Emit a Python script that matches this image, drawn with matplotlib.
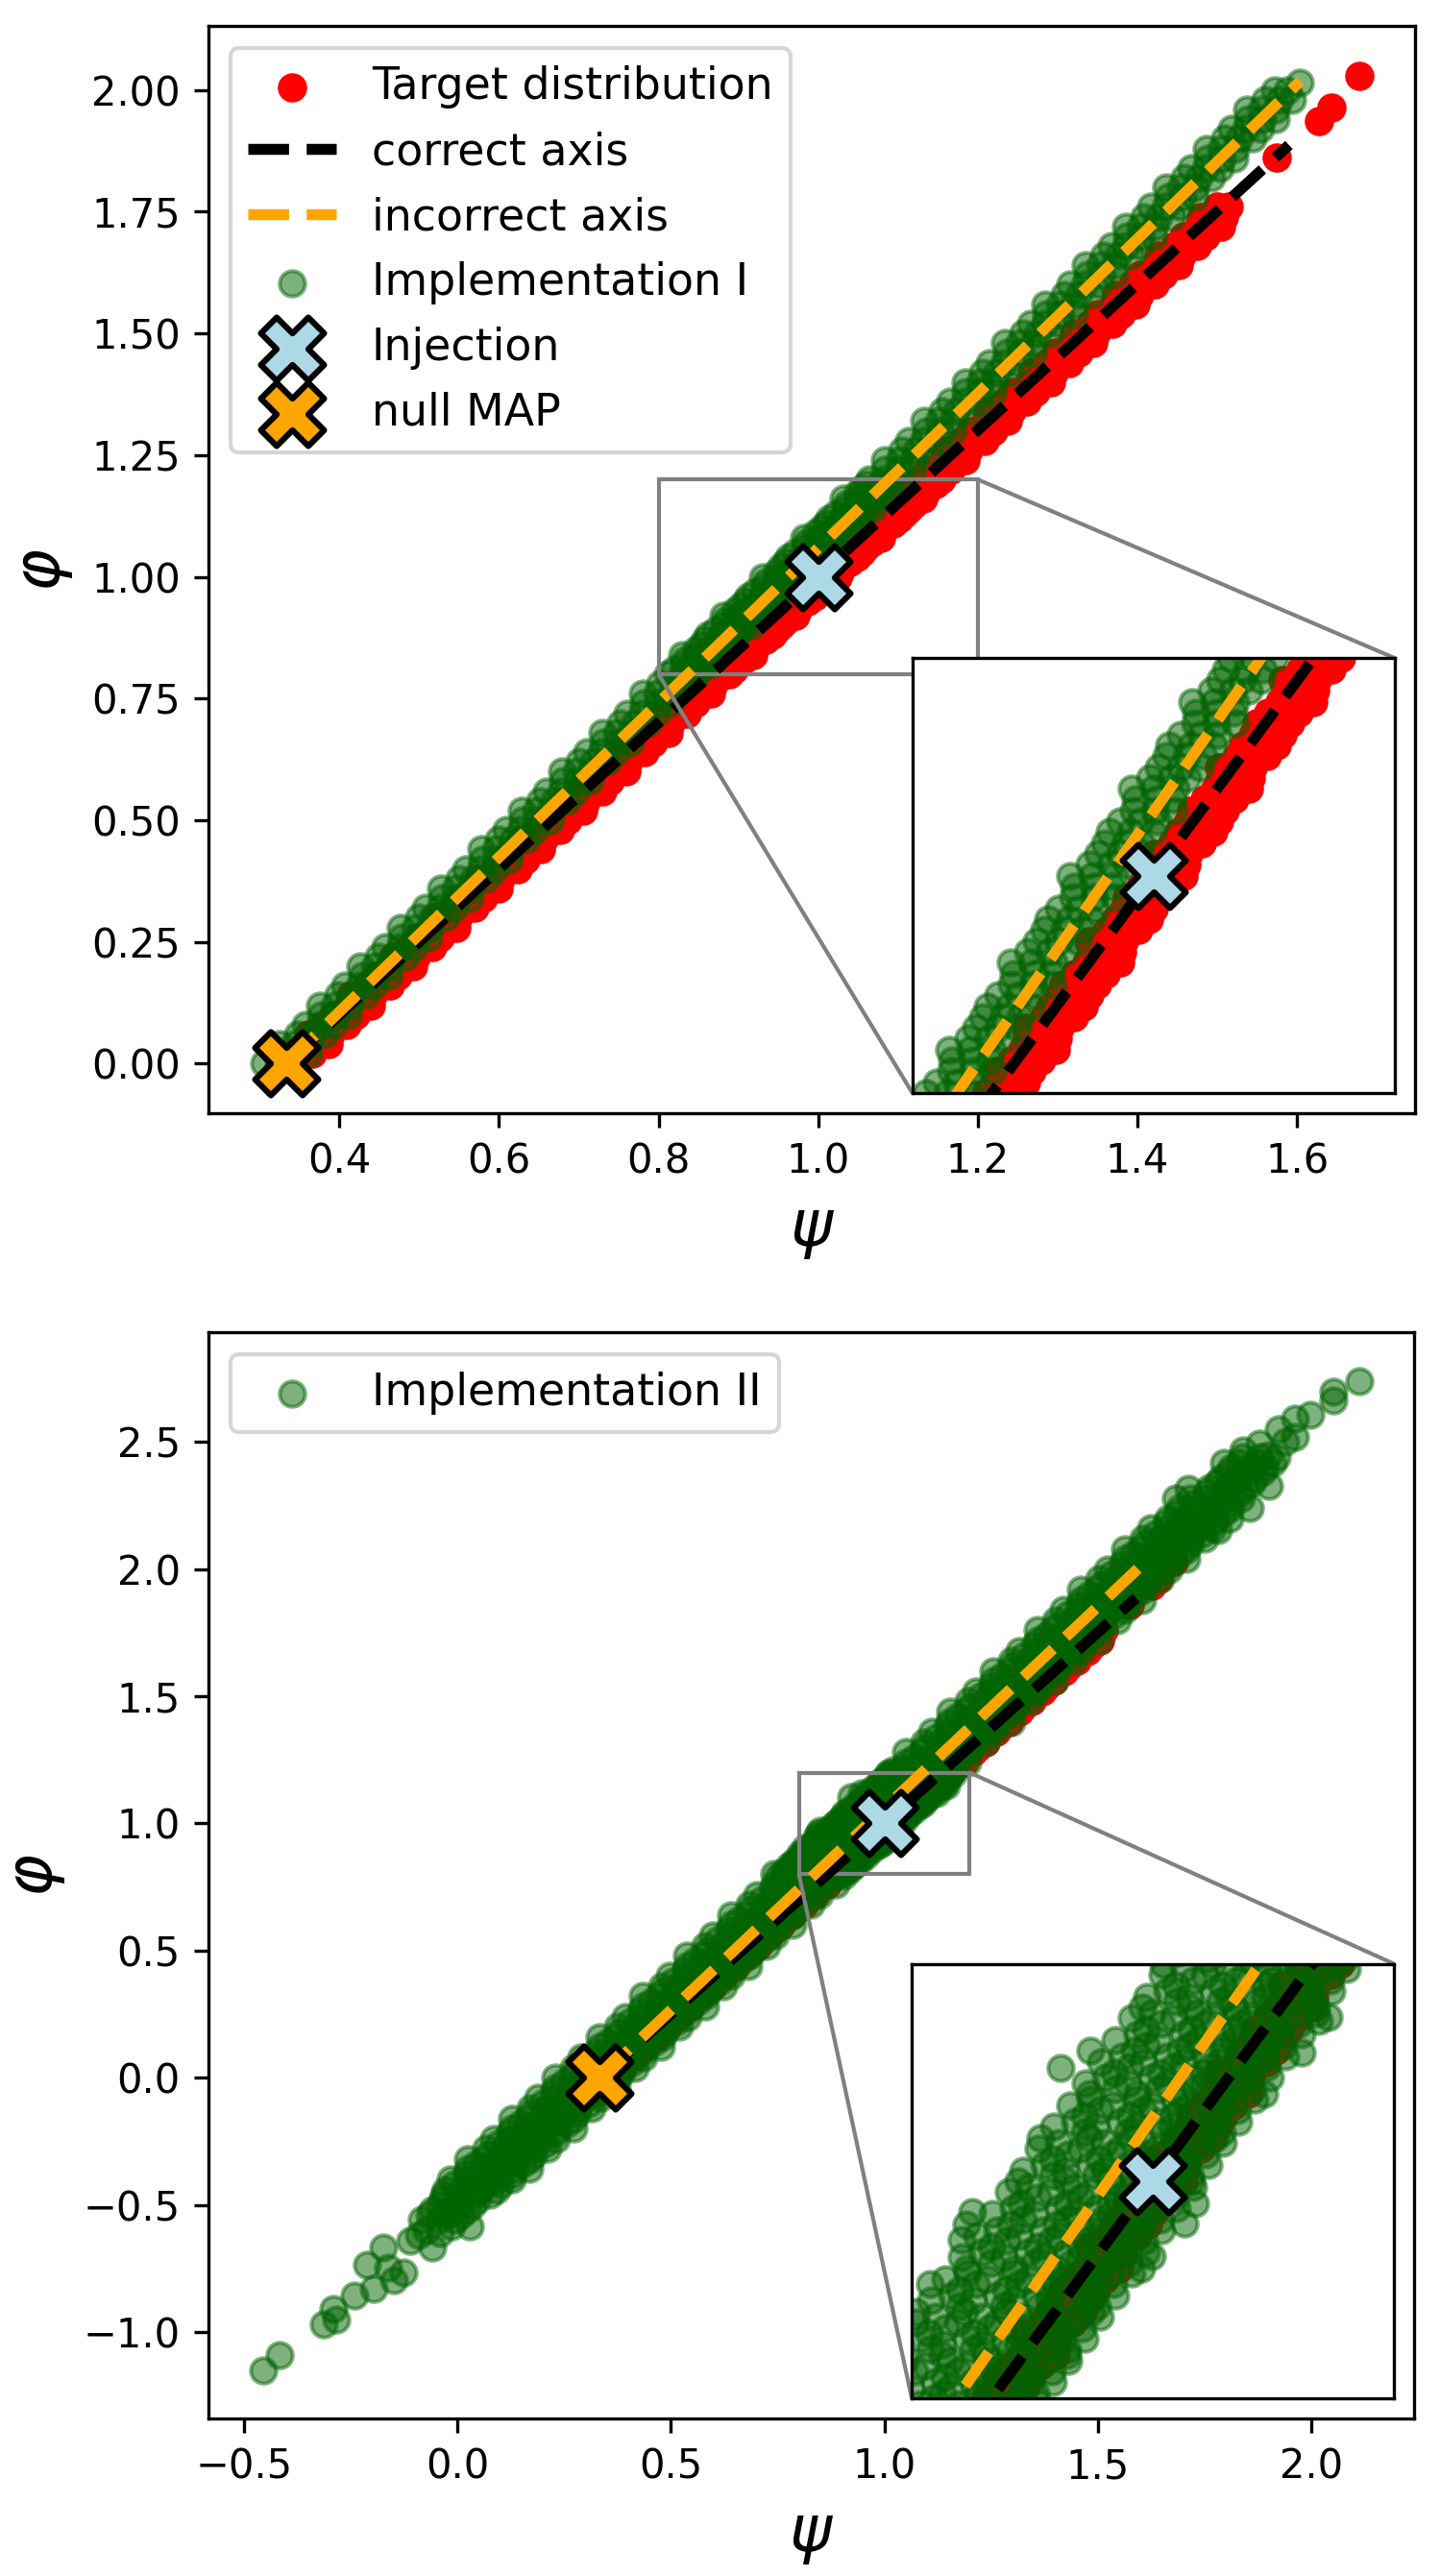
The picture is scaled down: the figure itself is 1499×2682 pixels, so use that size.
import matplotlib.pyplot as plt
from mpl_toolkits.axes_grid1.inset_locator import inset_axes, mark_inset

# markers
injection = (1.0, 1.0)
null_map = (1 / 3, 0.0)

# the two axes (end points)
correct_psi = [0.333, 1.59]
correct_phi = [0.0, 1.887]
incorrect_psi = [0.333, 1.604]
incorrect_phi = [0.0, 2.018]

# samples are stored by rows: (phi, [psi, psi, ...])

# target distribution
target_rows = [
    (0.02, [0.338, 0.352, 0.366]), (0.04, [0.358, 0.372, 0.386]),
    (0.06, [0.361, 0.375, 0.389]), (0.08, [0.381, 0.395, 0.409]),
    (0.10, [0.392, 0.406, 0.420]), (0.12, [0.411, 0.425, 0.439]),
    (0.14, [0.414, 0.428, 0.442]), (0.16, [0.435, 0.449, 0.463]),
    (0.18, [0.445, 0.459, 0.473]), (0.20, [0.464, 0.478, 0.492]),
    (0.22, [0.468, 0.482, 0.496]), (0.24, [0.488, 0.502, 0.516]),
    (0.26, [0.498, 0.512, 0.526]), (0.28, [0.518, 0.532, 0.546]),
    (0.30, [0.521, 0.535, 0.549]), (0.32, [0.541, 0.555, 0.569]),
    (0.34, [0.552, 0.566, 0.580]), (0.36, [0.571, 0.585, 0.599]),
    (0.38, [0.574, 0.588, 0.602]), (0.40, [0.595, 0.609, 0.623]),
    (0.42, [0.605, 0.619, 0.633]), (0.44, [0.624, 0.638, 0.652]),
    (0.46, [0.628, 0.642, 0.656]), (0.48, [0.648, 0.662, 0.676]),
    (0.50, [0.658, 0.672, 0.686]), (0.52, [0.677, 0.691, 0.705]),
    (0.54, [0.681, 0.695, 0.709]), (0.56, [0.701, 0.715, 0.729]),
    (0.58, [0.711, 0.725, 0.739]), (0.60, [0.731, 0.745, 0.759]),
    (0.62, [0.734, 0.748, 0.762]), (0.64, [0.754, 0.768, 0.782]),
    (0.66, [0.765, 0.779, 0.793]), (0.68, [0.784, 0.798, 0.812]),
    (0.70, [0.787, 0.801, 0.815]), (0.72, [0.808, 0.822, 0.836]),
    (0.74, [0.818, 0.832, 0.846]), (0.76, [0.837, 0.851, 0.865]),
    (0.78, [0.841, 0.855, 0.869]), (0.80, [0.861, 0.875, 0.889]),
    (0.82, [0.871, 0.885, 0.899]), (0.84, [0.891, 0.905, 0.919]),
    (0.86, [0.894, 0.908, 0.922]), (0.88, [0.914, 0.928, 0.942]),
    (0.90, [0.925, 0.939, 0.953]), (0.92, [0.944, 0.958, 0.972]),
    (0.94, [0.947, 0.961, 0.975]), (0.96, [0.968, 0.982, 0.996]),
    (0.98, [0.978, 0.992, 1.006]), (1.00, [0.997, 1.011, 1.025]),
    (1.02, [1.001, 1.015, 1.029]), (1.04, [1.021, 1.035, 1.049]),
    (1.06, [1.031, 1.045, 1.059]), (1.08, [1.051, 1.065, 1.079]),
    (1.10, [1.054, 1.068, 1.082]), (1.12, [1.074, 1.088, 1.102]),
    (1.14, [1.085, 1.099, 1.113]), (1.16, [1.104, 1.118, 1.132]),
    (1.18, [1.107, 1.121, 1.135]), (1.20, [1.127, 1.141, 1.155]),
    (1.22, [1.138, 1.152, 1.166]), (1.24, [1.157, 1.171, 1.185]),
    (1.26, [1.160, 1.174, 1.188]), (1.28, [1.181, 1.195, 1.209]),
    (1.30, [1.191, 1.205, 1.219]), (1.32, [1.210, 1.224, 1.238]),
    (1.34, [1.214, 1.228, 1.242]), (1.36, [1.234, 1.248, 1.262]),
    (1.38, [1.244, 1.258, 1.272]), (1.40, [1.264, 1.278, 1.292]),
    (1.42, [1.267, 1.281, 1.295]), (1.44, [1.287, 1.301, 1.315]),
    (1.46, [1.298, 1.312, 1.326]), (1.48, [1.317, 1.331, 1.345]),
    (1.50, [1.320, 1.334, 1.348]), (1.52, [1.341, 1.355, 1.369]),
    (1.54, [1.351, 1.365, 1.379]), (1.56, [1.370, 1.384, 1.398]),
    (1.58, [1.374, 1.388, 1.402]), (1.60, [1.394, 1.408, 1.422]),
    (1.62, [1.404, 1.418, 1.432]), (1.64, [1.424, 1.438, 1.452]),
    (1.66, [1.427, 1.441, 1.455]), (1.68, [1.447, 1.461, 1.475]),
    (1.70, [1.458, 1.472, 1.486]), (1.72, [1.477, 1.491, 1.505]),
    (1.74, [1.480, 1.494, 1.508]), (1.76, [1.500, 1.514]),
    (1.861, [1.575]), (1.936, [1.627]), (1.963, [1.643]), (2.030, [1.678]),
]
# extra target rows inside the zoomed window
target_rows_zoom = [
    (0.81, [0.869, 0.883, 0.894]), (0.83, [0.882, 0.896, 0.907]),
    (0.85, [0.895, 0.909, 0.920]), (0.87, [0.909, 0.923, 0.934]),
    (0.89, [0.922, 0.936, 0.947]), (0.91, [0.935, 0.949, 0.960]),
    (0.93, [0.949, 0.963, 0.974]), (0.95, [0.962, 0.976, 0.987]),
    (0.97, [0.975, 0.989, 1.000]), (0.99, [0.989, 1.003, 1.014]),
    (1.01, [1.002, 1.016, 1.027]), (1.03, [1.015, 1.029, 1.040]),
    (1.05, [1.029, 1.043, 1.054]), (1.07, [1.042, 1.056, 1.067]),
    (1.09, [1.055, 1.069, 1.080]), (1.11, [1.069, 1.083, 1.094]),
    (1.13, [1.082, 1.096, 1.107]), (1.15, [1.095, 1.109, 1.120]),
    (1.17, [1.109, 1.123, 1.134]), (1.19, [1.122, 1.136, 1.147]),
]

# Implementation I
impl1_rows = [
    (0.00, [0.306, 0.324, 0.342]), (0.02, [0.327, 0.345, 0.361]),
    (0.04, [0.325, 0.343, 0.361]), (0.06, [0.348, 0.366, 0.382]),
    (0.08, [0.357, 0.375, 0.393]), (0.10, [0.377, 0.395, 0.411]),
    (0.12, [0.376, 0.394, 0.412]), (0.14, [0.398, 0.416, 0.432]),
    (0.16, [0.407, 0.425, 0.443]), (0.18, [0.428, 0.446, 0.462]),
    (0.20, [0.426, 0.444, 0.462]), (0.22, [0.449, 0.467, 0.483]),
    (0.24, [0.458, 0.476, 0.494]), (0.26, [0.478, 0.496, 0.512]),
    (0.28, [0.477, 0.495, 0.513]), (0.30, [0.499, 0.517, 0.533]),
    (0.32, [0.508, 0.526, 0.544]), (0.34, [0.529, 0.547, 0.563]),
    (0.36, [0.527, 0.545, 0.563]), (0.38, [0.550, 0.568, 0.584]),
    (0.40, [0.559, 0.577, 0.595]), (0.42, [0.579, 0.597, 0.613]),
    (0.44, [0.578, 0.596, 0.614]), (0.46, [0.600, 0.618, 0.634]),
    (0.48, [0.609, 0.627, 0.645]), (0.50, [0.630, 0.648, 0.664]),
    (0.52, [0.628, 0.646, 0.664]), (0.54, [0.651, 0.669, 0.685]),
    (0.56, [0.660, 0.678, 0.696]), (0.58, [0.680, 0.698, 0.714]),
    (0.60, [0.679, 0.697, 0.715]), (0.62, [0.701, 0.719, 0.735]),
    (0.64, [0.710, 0.728, 0.746]), (0.66, [0.731, 0.749, 0.765]),
    (0.68, [0.729, 0.747, 0.765]), (0.70, [0.752, 0.770, 0.786]),
    (0.72, [0.761, 0.779, 0.797]), (0.74, [0.781, 0.799, 0.815]),
    (0.76, [0.780, 0.798, 0.816]), (0.78, [0.802, 0.820, 0.836]),
    (0.80, [0.811, 0.829, 0.847]), (0.82, [0.832, 0.850, 0.866]),
    (0.84, [0.830, 0.848, 0.866]), (0.86, [0.853, 0.871, 0.887]),
    (0.88, [0.862, 0.880, 0.898]), (0.90, [0.882, 0.900, 0.916]),
    (0.92, [0.881, 0.899, 0.917]), (0.94, [0.903, 0.921, 0.937]),
    (0.96, [0.912, 0.930, 0.948]), (0.98, [0.933, 0.951, 0.967]),
    (1.00, [0.931, 0.949, 0.967]), (1.02, [0.954, 0.972, 0.988]),
    (1.04, [0.963, 0.981, 0.999]), (1.06, [0.983, 1.001, 1.017]),
    (1.08, [0.982, 1.000, 1.018]), (1.10, [1.004, 1.022, 1.038]),
    (1.12, [1.013, 1.031, 1.049]), (1.14, [1.034, 1.052, 1.068]),
    (1.16, [1.032, 1.050, 1.068]), (1.18, [1.055, 1.073, 1.089]),
    (1.20, [1.064, 1.082, 1.100]), (1.22, [1.084, 1.102, 1.118]),
    (1.24, [1.083, 1.101, 1.119]), (1.26, [1.105, 1.123, 1.139]),
    (1.28, [1.114, 1.132, 1.150]), (1.30, [1.135, 1.153, 1.169]),
    (1.32, [1.133, 1.151, 1.169]), (1.34, [1.156, 1.174, 1.190]),
    (1.36, [1.165, 1.183, 1.201]), (1.38, [1.185, 1.203, 1.219]),
    (1.40, [1.184, 1.202, 1.220]), (1.42, [1.206, 1.224, 1.240]),
    (1.44, [1.215, 1.233, 1.251]), (1.46, [1.236, 1.254, 1.270]),
    (1.48, [1.234, 1.252, 1.270]), (1.50, [1.257, 1.275, 1.291]),
    (1.52, [1.266, 1.284, 1.302]), (1.54, [1.286, 1.304, 1.320]),
    (1.56, [1.285, 1.303, 1.321]), (1.58, [1.308, 1.326, 1.342]),
    (1.60, [1.316, 1.334, 1.352]), (1.62, [1.337, 1.355, 1.371]),
    (1.64, [1.335, 1.353, 1.371]), (1.66, [1.358, 1.376, 1.392]),
    (1.68, [1.367, 1.385, 1.403]), (1.70, [1.387, 1.405, 1.421]),
    (1.72, [1.386, 1.404, 1.422]), (1.74, [1.409, 1.427, 1.443]),
    (1.76, [1.417, 1.435, 1.453]), (1.78, [1.438, 1.456, 1.472]),
    (1.80, [1.436, 1.454, 1.472]), (1.82, [1.459, 1.477, 1.493]),
    (1.84, [1.468, 1.486, 1.504]), (1.86, [1.488, 1.506, 1.522]),
    (1.88, [1.487, 1.505, 1.523]), (1.90, [1.510, 1.528, 1.544]),
    (1.92, [1.518, 1.536, 1.554]), (1.94, [1.539, 1.557, 1.573]),
    (1.96, [1.537, 1.555, 1.573]), (1.98, [1.560, 1.578, 1.594]),
    (2.00, [1.572, 1.588]), (2.016, [1.603]),
]
impl1_rows_zoom = [
    (0.81, [0.820, 0.837, 0.851]), (0.83, [0.833, 0.850, 0.864]),
    (0.85, [0.846, 0.863, 0.877]), (0.87, [0.858, 0.875, 0.889]),
    (0.89, [0.871, 0.888, 0.902]), (0.91, [0.884, 0.901, 0.915]),
    (0.93, [0.896, 0.913, 0.927]), (0.95, [0.909, 0.926, 0.940]),
    (0.97, [0.921, 0.938, 0.952]), (0.99, [0.934, 0.951, 0.965]),
    (1.01, [0.947, 0.964, 0.978]), (1.03, [0.959, 0.976, 0.990]),
    (1.05, [0.972, 0.989, 1.003]), (1.07, [0.985, 1.002, 1.016]),
    (1.09, [0.997, 1.014, 1.028]), (1.11, [1.010, 1.027, 1.041]),
    (1.13, [1.022, 1.039, 1.053]), (1.15, [1.035, 1.052, 1.066]),
    (1.17, [1.048, 1.065, 1.079]), (1.19, [1.060, 1.077, 1.091]),
]

# Implementation II
impl2_rows = [
    (-0.56, [-0.084, -0.044, -0.004]),
    (-0.54, [-0.066, -0.026, 0.009]),
    (-0.52, [-0.058, -0.018, 0.022]),
    (-0.50, [-0.041, -0.001, 0.035]),
    (-0.48, [-0.033, 0.007, 0.047]),
    (-0.46, [-0.032, 0.006, 0.042, 0.076]),
    (-0.44, [-0.027, 0.013, 0.053, 0.093]),
    (-0.42, [-0.006, 0.032, 0.068, 0.102]),
    (-0.40, [-0.016, 0.024, 0.059, 0.094, 0.129]),
    (-0.38, [0.019, 0.057, 0.093, 0.127]),
    (-0.36, [0.024, 0.064, 0.099, 0.134, 0.169]),
    (-0.34, [0.045, 0.083, 0.119, 0.153]),
    (-0.32, [0.025, 0.062, 0.100, 0.135, 0.170]),
    (-0.30, [0.071, 0.109, 0.145, 0.179]),
    (-0.28, [0.068, 0.108, 0.144, 0.178, 0.212]),
    (-0.26, [0.096, 0.134, 0.170, 0.204]),
    (-0.24, [0.086, 0.126, 0.161, 0.196, 0.231]),
    (-0.22, [0.122, 0.160, 0.196, 0.230]),
    (-0.20, [0.127, 0.167, 0.202, 0.237, 0.272]),
    (-0.18, [0.148, 0.186, 0.222, 0.256]),
    (-0.16, [0.127, 0.164, 0.202, 0.237, 0.272]),
    (-0.14, [0.173, 0.211, 0.247, 0.281]),
    (-0.12, [0.170, 0.210, 0.246, 0.280, 0.314]),
    (-0.10, [0.199, 0.237, 0.273, 0.307]),
    (-0.08, [0.189, 0.229, 0.264, 0.299, 0.334]),
    (-0.06, [0.225, 0.263, 0.299, 0.333]),
    (-0.04, [0.229, 0.269, 0.304, 0.339, 0.374]),
    (-0.02, [0.250, 0.288, 0.324, 0.358]),
    (0.00, [0.230, 0.267, 0.305, 0.340, 0.375]),
    (0.02, [0.276, 0.314, 0.350, 0.384]),
    (0.04, [0.273, 0.313, 0.349, 0.383, 0.417]),
    (0.06, [0.302, 0.340, 0.376, 0.410]),
    (0.08, [0.291, 0.331, 0.366, 0.401, 0.436]),
    (0.10, [0.327, 0.365, 0.401, 0.435]),
    (0.12, [0.332, 0.372, 0.407, 0.442, 0.477]),
    (0.14, [0.353, 0.391, 0.427, 0.461]),
    (0.16, [0.333, 0.370, 0.408, 0.443, 0.478]),
    (0.18, [0.378, 0.416, 0.452, 0.486]),
    (0.20, [0.375, 0.415, 0.451, 0.485, 0.519]),
    (0.22, [0.404, 0.442, 0.478, 0.512]),
    (0.24, [0.394, 0.434, 0.469, 0.504, 0.539]),
    (0.26, [0.430, 0.468, 0.504, 0.538]),
    (0.28, [0.435, 0.475, 0.510, 0.545, 0.580]),
    (0.30, [0.455, 0.493, 0.529, 0.563]),
    (0.32, [0.435, 0.472, 0.510, 0.545, 0.580]),
    (0.34, [0.481, 0.519, 0.555, 0.589]),
    (0.36, [0.478, 0.518, 0.554, 0.588, 0.622]),
    (0.38, [0.507, 0.545, 0.581, 0.615]),
    (0.40, [0.496, 0.536, 0.571, 0.606, 0.641]),
    (0.42, [0.532, 0.570, 0.606, 0.640]),
    (0.44, [0.537, 0.577, 0.612, 0.647, 0.682]),
    (0.46, [0.558, 0.596, 0.632, 0.666]),
    (0.48, [0.538, 0.575, 0.613, 0.648, 0.683]),
    (0.50, [0.584, 0.622, 0.658, 0.692]),
    (0.52, [0.580, 0.620, 0.656, 0.690, 0.724]),
    (0.54, [0.609, 0.647, 0.683, 0.717]),
    (0.56, [0.599, 0.639, 0.674, 0.709, 0.744]),
    (0.58, [0.635, 0.673, 0.709, 0.743]),
    (0.60, [0.640, 0.680, 0.715, 0.750, 0.785]),
    (0.62, [0.660, 0.698, 0.734, 0.768]),
    (0.64, [0.640, 0.677, 0.715, 0.750, 0.785]),
    (0.66, [0.686, 0.724, 0.760, 0.794]),
    (0.68, [0.683, 0.723, 0.759, 0.793, 0.827]),
    (0.70, [0.712, 0.750, 0.786, 0.820]),
    (0.72, [0.702, 0.742, 0.777, 0.812, 0.847]),
    (0.74, [0.737, 0.775, 0.811, 0.845]),
    (0.76, [0.742, 0.782, 0.817, 0.852, 0.887]),
    (0.78, [0.763, 0.801, 0.837, 0.871]),
    (0.80, [0.743, 0.780, 0.818, 0.853, 0.888]),
    (0.82, [0.789, 0.827, 0.863, 0.897]),
    (0.84, [0.785, 0.825, 0.861, 0.895, 0.929]),
    (0.86, [0.814, 0.852, 0.888, 0.922]),
    (0.88, [0.804, 0.844, 0.879, 0.914, 0.949]),
    (0.90, [0.840, 0.878, 0.914, 0.948]),
    (0.92, [0.845, 0.885, 0.920, 0.955, 0.990]),
    (0.94, [0.866, 0.904, 0.940, 0.974]),
    (0.96, [0.845, 0.882, 0.920, 0.955, 0.990]),
    (0.98, [0.891, 0.929, 0.965, 0.999]),
    (1.00, [0.888, 0.928, 0.964, 0.998, 1.032]),
    (1.02, [0.917, 0.955, 0.991, 1.025]),
    (1.04, [0.907, 0.947, 0.982, 1.017, 1.052]),
    (1.06, [0.943, 0.981, 1.017, 1.051]),
    (1.08, [0.947, 0.987, 1.022, 1.057, 1.092]),
    (1.10, [0.968, 1.006, 1.042, 1.076]),
    (1.12, [0.948, 0.985, 1.023, 1.058, 1.093]),
    (1.14, [0.994, 1.032, 1.068, 1.102]),
    (1.16, [0.991, 1.031, 1.067, 1.101, 1.135]),
    (1.18, [1.019, 1.057, 1.093, 1.127]),
    (1.20, [1.009, 1.049, 1.084, 1.119, 1.154]),
    (1.22, [1.045, 1.083, 1.119, 1.153]),
    (1.24, [1.050, 1.090, 1.125, 1.160, 1.195]),
    (1.26, [1.071, 1.109, 1.145, 1.179]),
    (1.28, [1.051, 1.088, 1.126, 1.161, 1.196]),
    (1.30, [1.096, 1.134, 1.170, 1.204]),
    (1.32, [1.093, 1.133, 1.169, 1.203, 1.237]),
    (1.34, [1.122, 1.160, 1.196, 1.230]),
    (1.36, [1.112, 1.152, 1.187, 1.222, 1.257]),
    (1.38, [1.148, 1.186, 1.222, 1.256]),
    (1.40, [1.152, 1.192, 1.227, 1.262, 1.297]),
    (1.42, [1.173, 1.211, 1.247, 1.281]),
    (1.44, [1.153, 1.190, 1.228, 1.263, 1.298]),
    (1.46, [1.199, 1.237, 1.273, 1.307]),
    (1.48, [1.196, 1.236, 1.272, 1.306, 1.340]),
    (1.50, [1.225, 1.263, 1.299, 1.333]),
    (1.52, [1.214, 1.254, 1.289, 1.324, 1.359]),
    (1.54, [1.250, 1.288, 1.324, 1.358]),
    (1.56, [1.255, 1.295, 1.330, 1.365, 1.400]),
    (1.58, [1.276, 1.314, 1.350, 1.384]),
    (1.60, [1.256, 1.293, 1.331, 1.366, 1.401]),
    (1.62, [1.301, 1.339, 1.375, 1.409]),
    (1.64, [1.298, 1.338, 1.374, 1.408, 1.442]),
    (1.66, [1.327, 1.365, 1.401, 1.435]),
    (1.68, [1.317, 1.357, 1.392, 1.427, 1.462]),
    (1.70, [1.353, 1.391, 1.427, 1.461]),
    (1.72, [1.358, 1.398, 1.433, 1.468, 1.503]),
    (1.74, [1.378, 1.416, 1.452, 1.486]),
    (1.76, [1.358, 1.395, 1.433, 1.468, 1.503]),
    (1.78, [1.404, 1.442, 1.478, 1.512]),
    (1.80, [1.401, 1.441, 1.477, 1.511, 1.545]),
    (1.82, [1.430, 1.468, 1.504, 1.538]),
    (1.84, [1.419, 1.459, 1.494, 1.529, 1.564]),
    (1.86, [1.455, 1.493, 1.529, 1.563]),
    (1.88, [1.460, 1.500, 1.535, 1.570, 1.605]),
    (1.90, [1.481, 1.519, 1.555, 1.589]),
    (1.92, [1.461, 1.498, 1.536, 1.571, 1.606]),
    (1.94, [1.507, 1.545, 1.581, 1.615]),
    (1.96, [1.503, 1.543, 1.579, 1.613, 1.647]),
    (1.98, [1.532, 1.570, 1.606, 1.640]),
    (2.00, [1.522, 1.562, 1.597, 1.632, 1.667]),
    (2.02, [1.558, 1.596, 1.632, 1.666]),
    (2.04, [1.563, 1.603, 1.638, 1.673, 1.708]),
    (2.06, [1.584, 1.622, 1.658, 1.692]),
    (2.08, [1.563, 1.600, 1.638, 1.673, 1.708]),
    (2.10, [1.609, 1.647, 1.683, 1.717]),
    (2.12, [1.606, 1.646, 1.682, 1.716, 1.750]),
    (2.14, [1.635, 1.673, 1.709, 1.743]),
    (2.16, [1.625, 1.665, 1.700, 1.735, 1.770]),
    (2.18, [1.660, 1.698, 1.734, 1.768]),
    (2.20, [1.665, 1.705, 1.740, 1.775, 1.810]),
    (2.22, [1.686, 1.724, 1.760, 1.794]),
    (2.24, [1.691, 1.731, 1.771, 1.811]),
    (2.26, [1.729, 1.769, 1.809]),
    (2.28, [1.717, 1.757, 1.797, 1.837]),
    (2.30, [1.754, 1.794, 1.834]),
    (2.32, [1.762, 1.802, 1.842]),
    (2.34, [1.780, 1.820, 1.860]),
    (2.36, [1.788, 1.828, 1.868]),
    (2.38, [1.806, 1.846, 1.886]),
    (2.40, [1.813, 1.853, 1.893]),
    (2.42, [1.831, 1.871, 1.911]),
    (2.44, [1.839, 1.879, 1.919]),
]
# extra Implementation II rows inside the zoomed window
impl2_rows_zoom = [
    (0.79, [0.751, 0.786, 0.819, 0.849, 0.879]),
    (0.795, [0.769, 0.807, 0.839, 0.865, 0.887, 0.905]),
    (0.805, [0.789, 0.825, 0.855, 0.881, 0.903]),
    (0.81, [0.764, 0.799, 0.832, 0.862, 0.892]),
    (0.815, [0.781, 0.819, 0.851, 0.877, 0.899, 0.917]),
    (0.825, [0.802, 0.838, 0.868, 0.894, 0.916]),
    (0.83, [0.777, 0.812, 0.845, 0.875, 0.905]),
    (0.835, [0.794, 0.832, 0.864, 0.890, 0.912, 0.930]),
    (0.845, [0.815, 0.851, 0.881, 0.907, 0.929]),
    (0.85, [0.790, 0.825, 0.858, 0.888, 0.918]),
    (0.855, [0.807, 0.845, 0.877, 0.903, 0.925, 0.943]),
    (0.865, [0.828, 0.864, 0.894, 0.920, 0.942]),
    (0.87, [0.803, 0.838, 0.871, 0.901, 0.931]),
    (0.875, [0.820, 0.858, 0.890, 0.916, 0.938, 0.956]),
    (0.885, [0.840, 0.876, 0.906, 0.932, 0.954]),
    (0.89, [0.816, 0.851, 0.884, 0.914, 0.944]),
    (0.895, [0.833, 0.871, 0.903, 0.929, 0.951, 0.969]),
    (0.905, [0.853, 0.889, 0.919, 0.945, 0.967]),
    (0.91, [0.828, 0.863, 0.896, 0.926, 0.956]),
    (0.915, [0.846, 0.884, 0.916, 0.942, 0.964, 0.982]),
    (0.925, [0.866, 0.902, 0.932, 0.958, 0.980]),
    (0.93, [0.841, 0.876, 0.909, 0.939, 0.969]),
    (0.935, [0.858, 0.896, 0.928, 0.954, 0.976, 0.994]),
    (0.945, [0.879, 0.915, 0.945, 0.971, 0.993]),
    (0.95, [0.854, 0.889, 0.922, 0.952, 0.982]),
    (0.955, [0.871, 0.909, 0.941, 0.967, 0.989, 1.007]),
    (0.965, [0.892, 0.928, 0.958, 0.984, 1.006]),
    (0.97, [0.867, 0.902, 0.935, 0.965, 0.995]),
    (0.975, [0.884, 0.922, 0.954, 0.980, 1.002, 1.020]),
    (0.985, [0.904, 0.940, 0.970, 0.996, 1.018]),
    (0.99, [0.880, 0.915, 0.948, 0.978, 1.008]),
    (0.995, [0.897, 0.935, 0.967, 0.993, 1.015, 1.033]),
    (1.005, [0.917, 0.953, 0.983, 1.009, 1.031]),
    (1.01, [0.892, 0.927, 0.960, 0.990, 1.020]),
    (1.015, [0.910, 0.948, 0.980, 1.006, 1.028, 1.046]),
    (1.025, [0.930, 0.966, 0.996, 1.022, 1.044]),
    (1.03, [0.905, 0.940, 0.973, 1.003, 1.033]),
    (1.035, [0.922, 0.960, 0.992, 1.018, 1.040, 1.058]),
    (1.045, [0.943, 0.979, 1.009, 1.035, 1.057]),
    (1.05, [0.918, 0.953, 0.986, 1.016, 1.046]),
    (1.055, [0.935, 0.973, 1.005, 1.031, 1.053, 1.071]),
    (1.065, [0.956, 0.992, 1.022, 1.048, 1.070]),
    (1.07, [0.931, 0.966, 0.999, 1.029, 1.059]),
    (1.075, [0.948, 0.986, 1.018, 1.044, 1.066, 1.084]),
    (1.085, [0.969, 1.005, 1.035, 1.061, 1.083]),
    (1.09, [0.944, 0.979, 1.012, 1.042, 1.072]),
    (1.095, [0.961, 0.999, 1.031, 1.057, 1.079, 1.097]),
    (1.105, [0.981, 1.017, 1.047, 1.073, 1.095]),
    (1.11, [0.957, 0.992, 1.025, 1.055, 1.085]),
    (1.115, [0.974, 1.012, 1.044, 1.070, 1.092, 1.110]),
    (1.125, [0.994, 1.030, 1.060, 1.086, 1.108]),
    (1.13, [0.969, 1.004, 1.037, 1.067, 1.097]),
    (1.135, [0.987, 1.025, 1.057, 1.083, 1.105, 1.123]),
    (1.145, [1.007, 1.043, 1.073, 1.099, 1.121]),
    (1.15, [0.982, 1.017, 1.050, 1.080, 1.110]),
    (1.155, [0.999, 1.037, 1.069, 1.095, 1.117, 1.135]),
    (1.165, [1.020, 1.056, 1.086, 1.112, 1.134]),
    (1.17, [0.995, 1.030, 1.063, 1.093, 1.123]),
    (1.175, [1.012, 1.050, 1.082, 1.108, 1.130, 1.148]),
    (1.185, [1.033, 1.069, 1.099, 1.125, 1.147]),
    (1.19, [1.008, 1.043, 1.076, 1.106, 1.136]),
    (1.195, [1.025, 1.063, 1.095, 1.121, 1.143, 1.161]),
    (1.205, [1.045, 1.081, 1.111, 1.137, 1.159]),
    (1.21, [1.021, 1.056, 1.089, 1.119, 1.149]),
]

# sparse outliers of Implementation II (psi, phi)
impl2_outliers = [
    (-0.454, -1.152), (-0.417, -1.092), (-0.313, -0.970), (-0.291, -0.910),
    (-0.283, -0.950), (-0.240, -0.858), (-0.212, -0.735), (-0.197, -0.829),
    (-0.174, -0.667), (-0.148, -0.795), (-0.126, -0.768), (-0.163, -0.748),
    (-0.111, -0.640), (-0.058, -0.667), (-0.013, -0.586), (0.028, -0.586),
    (-0.090, -0.620), (-0.040, -0.610), (-0.073, -0.600),
    (0.850, 0.972), (0.815, 0.905), (0.841, 0.946), (0.923, 1.104),
    (0.999, 0.931), (1.026, 0.961), (1.035, 0.980),
    (1.146, 1.151), (1.138, 1.148), (1.123, 1.118),
    (1.796, 2.418), (1.841, 2.468), (1.878, 2.493), (1.923, 2.550),
    (1.961, 2.519), (1.961, 2.594), (1.998, 2.606), (2.051, 2.663),
    (2.051, 2.700), (2.113, 2.741), (1.901, 2.329), (1.856, 2.242),
    (1.683, 2.279), (1.713, 2.317), (1.781, 2.154), (1.900, 2.450),
    (1.940, 2.500),
]


def unpack(rows):
    psi = [x for phi, row in rows for x in row]
    phi = [y for y, row in rows for x in row]
    return psi, phi


target_psi, target_phi = unpack(target_rows + target_rows_zoom)
impl1_psi, impl1_phi = unpack(impl1_rows + impl1_rows_zoom)
impl2_psi, impl2_phi = unpack(impl2_rows + impl2_rows_zoom)
impl2_psi += [p[0] for p in impl2_outliers]
impl2_phi += [p[1] for p in impl2_outliers]


def draw(ax, impl_psi, impl_phi, impl_label):
    ax.scatter(target_psi, target_phi, color='red', s=40, label='Target distribution')
    ax.plot(correct_psi, correct_phi, '--', color='black', lw=2.75, label='correct axis')
    ax.plot(incorrect_psi, incorrect_phi, '--', color='orange', lw=2.75, label='incorrect axis')
    sc = ax.scatter(impl_psi, impl_phi, color='darkgreen', alpha=0.5, s=40, label=impl_label)
    ax.scatter(*injection, marker='X', s=250, color='lightblue', edgecolors='black',
               linewidths=1.5, zorder=3, label='Injection')
    ax.scatter(*null_map, marker='X', s=250, color='orange', edgecolors='black',
               linewidths=1.5, zorder=3, label='null MAP')
    return sc


fig = plt.figure(figsize=(1499 / 300, 2682 / 300), dpi=300)
ax1 = fig.add_axes([0.1448, 0.5679, 0.8379, 0.4220])
ax2 = fig.add_axes([0.1448, 0.0611, 0.8372, 0.4219])

panels = [(ax1, impl1_psi, impl1_phi, 'Implementation I', (0.236, 1.748), (-0.1015, 2.1315)),
          (ax2, impl2_psi, impl2_phi, 'Implementation II', (-0.583, 2.241), (-1.341, 2.934))]

for ax, ps, ph, lab, xl, yl in panels:
    sc = draw(ax, ps, ph, lab)
    ax.set_xlim(*xl)
    ax.set_ylim(*yl)
    ax.set_xlabel(r'$\psi$', fontsize=16)
    ax.set_ylabel(r'$\varphi$', fontsize=16)
    if ax is ax1:
        ax.legend(loc='upper left', fontsize=11)
    else:
        ax.legend(handles=[sc], loc='upper left', fontsize=11)

    # zoomed inset around the injection
    axins = inset_axes(ax, width='40%', height='40%', loc='lower right')
    draw(axins, ps, ph, lab)
    axins.set_xlim(0.8, 1.2)
    axins.set_ylim(0.8, 1.2)
    axins.set_xticks([])
    axins.set_yticks([])
    mark_inset(ax, axins, loc1=1, loc2=3, fc='none', ec='0.5')

fig.savefig('out.png', dpi=300)
